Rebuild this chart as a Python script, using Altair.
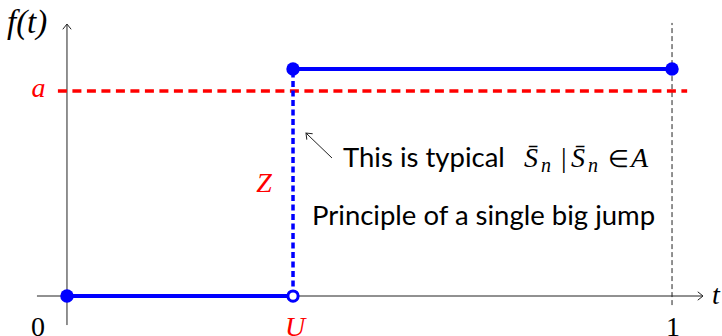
import altair as alt
import pandas as pd

# ---- values -------------------------------------------------------------
U = 0.3736          # jump time
F_LOW = 0.0         # level before the jump
F_HIGH = 1.0        # level after the jump
A_LEVEL = 0.903     # threshold a

# visible window of the two axes (data units)
T_DOM = [-0.1107, 1.0826]
F_DOM = [-0.1762, 1.3040]

# axis extents (data units)
X_AXIS = [-0.0496, 1.0512]
Y_AXIS = [-0.128, 1.198]
GUIDE_T1 = [-0.040, 1.203]
A_SPAN = [-0.015, 1.025]

# annotation arrow: tail -> tip
ARROW_TAIL = (0.438, 0.608)
ARROW_TIP = (0.395, 0.718)

BLUE = "#0000ff"
RED = "#ff0000"
SERIF = "Liberation Serif"
SANS = "Lato"

xs = alt.Scale(domain=T_DOM, nice=False, zero=False)
ys = alt.Scale(domain=F_DOM, nice=False, zero=False)


def X(field="t"):
    return alt.X(f"{field}:Q", scale=xs, axis=None)


def Y(field="f"):
    return alt.Y(f"{field}:Q", scale=ys, axis=None)


# ---- axes ----------------------------------------------------------------
axes_df = pd.DataFrame({
    "t": [X_AXIS[0], 0.0], "t2": [X_AXIS[1], 0.0],
    "f": [0.0, Y_AXIS[0]], "f2": [0.0, Y_AXIS[1]],
})
axes = alt.Chart(axes_df).mark_rule(color="#222", strokeWidth=1).encode(
    x=X(), x2="t2:Q", y=Y(), y2="f2:Q")

guide_df = pd.DataFrame({"t": [1.0], "f": [GUIDE_T1[0]], "f2": [GUIDE_T1[1]]})
guide = alt.Chart(guide_df).mark_rule(
    color="#222", strokeWidth=1, strokeDash=[5, 3]).encode(
    x=X(), y=Y(), y2="f2:Q")

CHEVRON = "M -1 -0.8 L 0 0 L -1 0.8"
heads_df = pd.DataFrame({
    "t": [X_AXIS[1], 0.0, ARROW_TIP[0]],
    "f": [0.0, Y_AXIS[1], ARROW_TIP[1]],
    "ang": [0, 270, 224],
})
heads = alt.Chart(heads_df).mark_point(
    shape=CHEVRON, filled=False, color="#222", strokeWidth=1, size=110,
    opacity=1).encode(x=X(), y=Y(), angle=alt.Angle("ang:Q", scale=None))

pointer_df = pd.DataFrame({"t": [ARROW_TAIL[0]], "t2": [ARROW_TIP[0]],
                           "f": [ARROW_TAIL[1]], "f2": [ARROW_TIP[1]]})
pointer = alt.Chart(pointer_df).mark_rule(color="#222", strokeWidth=1).encode(
    x=X(), x2="t2:Q", y=Y(), y2="f2:Q")

# ---- threshold a ---------------------------------------------------------
a_df = pd.DataFrame({"t": [A_SPAN[0]], "t2": [A_SPAN[1]], "f": [A_LEVEL]})
a_line = alt.Chart(a_df).mark_rule(
    color=RED, strokeWidth=3.5, strokeDash=[9, 5.5]).encode(
    x=X(), x2="t2:Q", y=Y())

# ---- step function -------------------------------------------------------
steps_df = pd.DataFrame({
    "t": [0.0, U], "t2": [U, 1.0],
    "f": [F_LOW, F_HIGH], "f2": [F_LOW, F_HIGH],
})
steps = alt.Chart(steps_df).mark_rule(color=BLUE, strokeWidth=4).encode(
    x=X(), x2="t2:Q", y=Y(), y2="f2:Q")

jump_df = pd.DataFrame({"t": [U], "f": [F_LOW], "f2": [F_HIGH]})
jump = alt.Chart(jump_df).mark_rule(
    color=BLUE, strokeWidth=3.5, strokeDash=[6, 3.5]).encode(
    x=X(), y=Y(), y2="f2:Q")

closed_df = pd.DataFrame({"t": [0.0, U, 1.0], "f": [F_LOW, F_HIGH, F_HIGH]})
closed = alt.Chart(closed_df).mark_circle(
    color=BLUE, size=180, opacity=1).encode(x=X(), y=Y())

open_df = pd.DataFrame({"t": [U], "f": [F_LOW]})
open_pt = alt.Chart(open_df).mark_point(
    shape="circle", fill="white", filled=True, stroke=BLUE, strokeWidth=3,
    size=105, opacity=1, fillOpacity=1).encode(x=X(), y=Y())

# ---- labels ----------------------------------------------------------------
LABEL_BASE = -0.1740   # baseline of the tick labels under the t axis

ft_df = pd.DataFrame({"label": ["f(t)"], "t": [-0.0992], "f": [1.1586]})
serif_it = pd.DataFrame({
    "label": ["a", "Z", "U", "t"],
    "t": [-0.0471, 0.3256, 0.3769, 1.0661],
    "f": [0.8767, 0.4581, LABEL_BASE, -0.0352],
    "col": [RED, RED, RED, "black"],
    "al": ["center", "center", "center", "left"],
})
serif_up = pd.DataFrame({
    "label": ["0", "1"],
    "t": [-0.0479, 1.0017],
    "f": [LABEL_BASE, LABEL_BASE],
})


def text_layer(df, align, style, font, size, color=None):
    enc = dict(x=X(), y=Y(), text="label:N")
    kw = dict(align=align, baseline="alphabetic", font=font, fontSize=size,
              fontStyle=style)
    if color is None:
        enc["color"] = alt.Color("col:N", scale=None)
    else:
        kw["color"] = color
    return alt.Chart(df).mark_text(**kw).encode(**enc)


label_ft = text_layer(ft_df, "left", "italic", SERIF, 33, "black")
labels_it_left = text_layer(serif_it[serif_it.al == "left"], "left",
                            "italic", SERIF, 28)
labels_it_center = text_layer(serif_it[serif_it.al == "center"], "center",
                              "italic", SERIF, 28)
labels_up = text_layer(serif_up, "center", "normal", SERIF, 28, "black")

sans_df = pd.DataFrame({
    "label": ["This is typical", "Principle of a single big jump"],
    "t": [0.4562, 0.4050],
    "f": [0.5683, 0.3128],
})
sans = text_layer(sans_df, "left", "normal", SANS, 27.5, "black")

# conditional event  S̄n | S̄n ∈ A
math_big_it = pd.DataFrame({"label": ["S\u0304", "S\u0304", "A"],
                            "t": [0.7554, 0.8331, 0.9322],
                            "f": [0.5683, 0.5683, 0.5683]})
math_sub = pd.DataFrame({"label": ["n", "n"],
                         "t": [0.7835, 0.8612],
                         "f": [0.5463, 0.5463]})
math_bar = pd.DataFrame({"label": ["|"], "t": [0.8165], "f": [0.5683]})
math_in = pd.DataFrame({"label": ["\u2208"], "t": [0.8942], "f": [0.5683]})
m1 = text_layer(math_big_it, "left", "italic", SERIF, 28, "black")
m2 = text_layer(math_sub, "left", "italic", SERIF, 20, "black")
m3 = text_layer(math_bar, "left", "normal", SERIF, 28, "black")
m4 = text_layer(math_in, "left", "normal", SERIF, 24, "black")

chart = alt.layer(
    axes, guide, heads, pointer, a_line, steps, jump, closed, open_pt,
    label_ft, labels_it_left, labels_it_center, labels_up, sans,
    m1, m2, m3, m4,
).properties(
    width=722, height=336,
    autosize=alt.AutoSizeParams(type="none"),
    padding=0,
).configure_view(stroke=None)

chart.save("out.html", embed_options={"renderer": "svg", "actions": False})
